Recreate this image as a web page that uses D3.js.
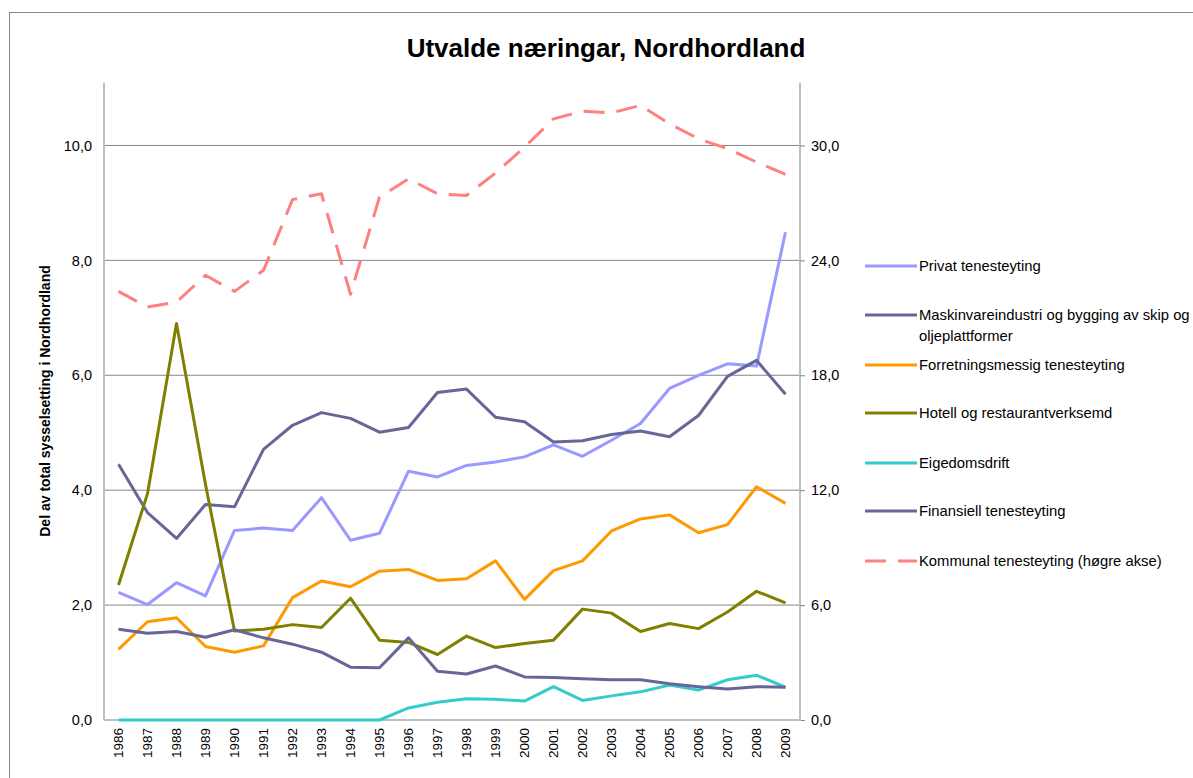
<!DOCTYPE html>
<html>
<head>
<meta charset="utf-8">
<script src="https://cdn.jsdelivr.net/npm/d3@7"></script>
<style>
  body { margin: 0; background: #fff; }
  svg { font-family: "Liberation Sans", Arial, sans-serif; }
</style>
</head>
<body>
<svg id="chart" width="1193" height="778"></svg>
<script>
// years on the x axis
const years = d3.range(1986, 2010).map(String);

// left axis series (share of total employment, %)
const privat = [2.22, 2.01, 2.39, 2.16, 3.30, 3.34, 3.30, 3.87, 3.13, 3.25, 4.33, 4.23,
  4.43, 4.49, 4.58, 4.79, 4.59, 4.87, 5.16, 5.77, 6.00, 6.20, 6.16, 8.49];
const maskin = [4.45, 3.61, 3.16, 3.75, 3.71, 4.71, 5.13, 5.35, 5.25, 5.01, 5.09, 5.70,
  5.76, 5.27, 5.19, 4.84, 4.86, 4.97, 5.03, 4.93, 5.30, 5.98, 6.26, 5.67];
const forretning = [1.23, 1.71, 1.78, 1.28, 1.18, 1.29, 2.13, 2.42, 2.32, 2.59, 2.62, 2.43,
  2.46, 2.77, 2.10, 2.60, 2.77, 3.29, 3.50, 3.57, 3.26, 3.40, 4.06, 3.77];
const hotell = [2.35, 3.94, 6.90, 4.10, 1.55, 1.58, 1.66, 1.61, 2.12, 1.39, 1.35, 1.14,
  1.46, 1.26, 1.33, 1.39, 1.93, 1.86, 1.54, 1.68, 1.59, 1.88, 2.24, 2.04];
const eigedom = [0, 0, 0, 0, 0, 0, 0, 0, 0, 0, 0.21, 0.31,
  0.37, 0.36, 0.33, 0.58, 0.34, 0.42, 0.49, 0.61, 0.52, 0.70, 0.78, 0.57];
const finans = [1.58, 1.51, 1.54, 1.44, 1.57, 1.43, 1.32, 1.18, 0.92, 0.91, 1.43, 0.85,
  0.80, 0.94, 0.75, 0.74, 0.72, 0.70, 0.70, 0.63, 0.58, 0.54, 0.58, 0.57];
// right axis series
const kommunal = [22.38, 21.56, 21.82, 23.22, 22.38, 23.48, 27.17, 27.48, 22.23, 27.30, 28.26, 27.48,
  27.39, 28.56, 29.91, 31.39, 31.79, 31.70, 32.09, 31.13, 30.35, 29.83, 29.13, 28.49];

const leftTicks = [0, 2, 4, 6, 8, 10];
const rightTicks = [0, 6, 12, 18, 24, 30];

const series = [
  { name: ["Privat tenesteyting"], values: privat, color: "#9999ff", axis: "left" },
  { name: ["Maskinvareindustri og bygging av skip og", "oljeplattformer"], values: maskin, color: "#666699", axis: "left" },
  { name: ["Forretningsmessig tenesteyting"], values: forretning, color: "#ff9900", axis: "left" },
  { name: ["Hotell og restaurantverksemd"], values: hotell, color: "#808000", axis: "left" },
  { name: ["Eigedomsdrift"], values: eigedom, color: "#33cccc", axis: "left" },
  { name: ["Finansiell tenesteyting"], values: finans, color: "#666699", axis: "left" },
  { name: ["Kommunal tenesteyting (høgre akse)"], values: kommunal, color: "#ff8080", axis: "right", dash: "21,12" }
];

const svg = d3.select("#chart");

// outer chart frame
svg.append("rect")
  .attr("x", 9.5).attr("y", 12.5)
  .attr("width", 1300).attr("height", 900)
  .attr("fill", "none").attr("stroke", "#878787").attr("stroke-width", 1);

const plot = { left: 104, right: 800, top: 88, bottom: 720 };

const x = d3.scaleBand().domain(years).range([plot.left, plot.right]);
const yL = d3.scaleLinear().domain([0, 11]).range([plot.bottom, plot.top]);
const yR = d3.scaleLinear().domain([0, 33]).range([plot.bottom, plot.top]);

// gridlines
svg.append("g")
  .selectAll("line")
  .data(leftTicks.filter(d => d > 0))
  .enter().append("line")
  .attr("x1", plot.left).attr("x2", plot.right)
  .attr("y1", d => yL(d)).attr("y2", d => yL(d))
  .attr("stroke", "#868686").attr("stroke-width", 1);

// left axis
const axL = svg.append("g")
  .attr("transform", `translate(${plot.left},0)`)
  .call(d3.axisLeft(yL).tickValues(leftTicks).tickSize(0).tickPadding(12)
    .tickFormat(d => d3.format(".1f")(d).replace(".", ",")));
axL.select(".domain").attr("stroke", "#bfbfbf").attr("stroke-width", 2)
  .attr("d", `M0,${plot.top - 5}V${plot.bottom}`);
axL.selectAll("text").attr("font-size", 14.5).attr("fill", "#000");

// right axis
const axR = svg.append("g")
  .attr("transform", `translate(${plot.right},0)`)
  .call(d3.axisRight(yR).tickValues(rightTicks).tickSize(5).tickPadding(6)
    .tickFormat(d => d3.format(".1f")(d).replace(".", ",")));
axR.select(".domain").attr("stroke", "#bfbfbf").attr("stroke-width", 2)
  .attr("d", `M0,${plot.top - 5}V${plot.bottom}`);
axR.selectAll(".tick line").attr("stroke", "#868686");
axR.selectAll("text").attr("font-size", 14.5).attr("fill", "#000");

// bottom axis
const axB = svg.append("g")
  .attr("transform", `translate(0,${plot.bottom})`)
  .call(d3.axisBottom(x).tickSize(0).tickPadding(0));
axB.select(".domain").attr("stroke", "#bfbfbf").attr("stroke-width", 2)
  .attr("d", `M${plot.left},0H${plot.right + 1}`);
axB.selectAll("text")
  .attr("font-size", 13.5).attr("fill", "#000")
  .attr("text-anchor", "end")
  .attr("transform", "translate(0,8) rotate(-90)")
  .attr("dy", "0.35em").attr("x", 0).attr("y", 0);

// lines
const lineFor = s => d3.line()
  .x((d, i) => x(years[i]) + x.bandwidth() / 2)
  .y(d => (s.axis === "left" ? yL(d) : yR(d)));

svg.append("g")
  .selectAll("path")
  .data(series)
  .enter().append("path")
  .attr("d", s => lineFor(s)(s.values))
  .attr("fill", "none")
  .attr("stroke", s => s.color)
  .attr("stroke-width", 3)
  .attr("stroke-linejoin", "round")
  .attr("stroke-dasharray", s => s.dash || null);

// title
svg.append("text")
  .attr("x", 606).attr("y", 57)
  .attr("text-anchor", "middle")
  .attr("font-size", 26).attr("font-weight", "bold")
  .text("Utvalde næringar, Nordhordland");

// y axis title
svg.append("text")
  .attr("transform", "translate(50,401) rotate(-90)")
  .attr("text-anchor", "middle")
  .attr("font-size", 14).attr("font-weight", "bold")
  .text("Del av total sysselsetting i Nordhordland");

// legend
const legendY = [266, 315, 365, 413, 463, 511, 561];
const legend = svg.append("g")
  .selectAll(".legend")
  .data(series)
  .enter().append("g")
  .attr("class", "legend")
  .attr("transform", (d, i) => `translate(865,${legendY[i]})`);

legend.append("line")
  .attr("x1", 0).attr("x2", 52)
  .attr("stroke", d => d.color)
  .attr("stroke-width", 3)
  .attr("stroke-dasharray", d => d.dash || null);

legend.append("text")
  .attr("font-size", 14.8)
  .attr("fill", "#000")
  .selectAll("tspan")
  .data(d => d.name)
  .enter().append("tspan")
  .attr("x", 54)
  .attr("y", (d, i) => i * 21)
  .attr("dy", "0.35em")
  .text(d => d);
</script>
</body>
</html>
